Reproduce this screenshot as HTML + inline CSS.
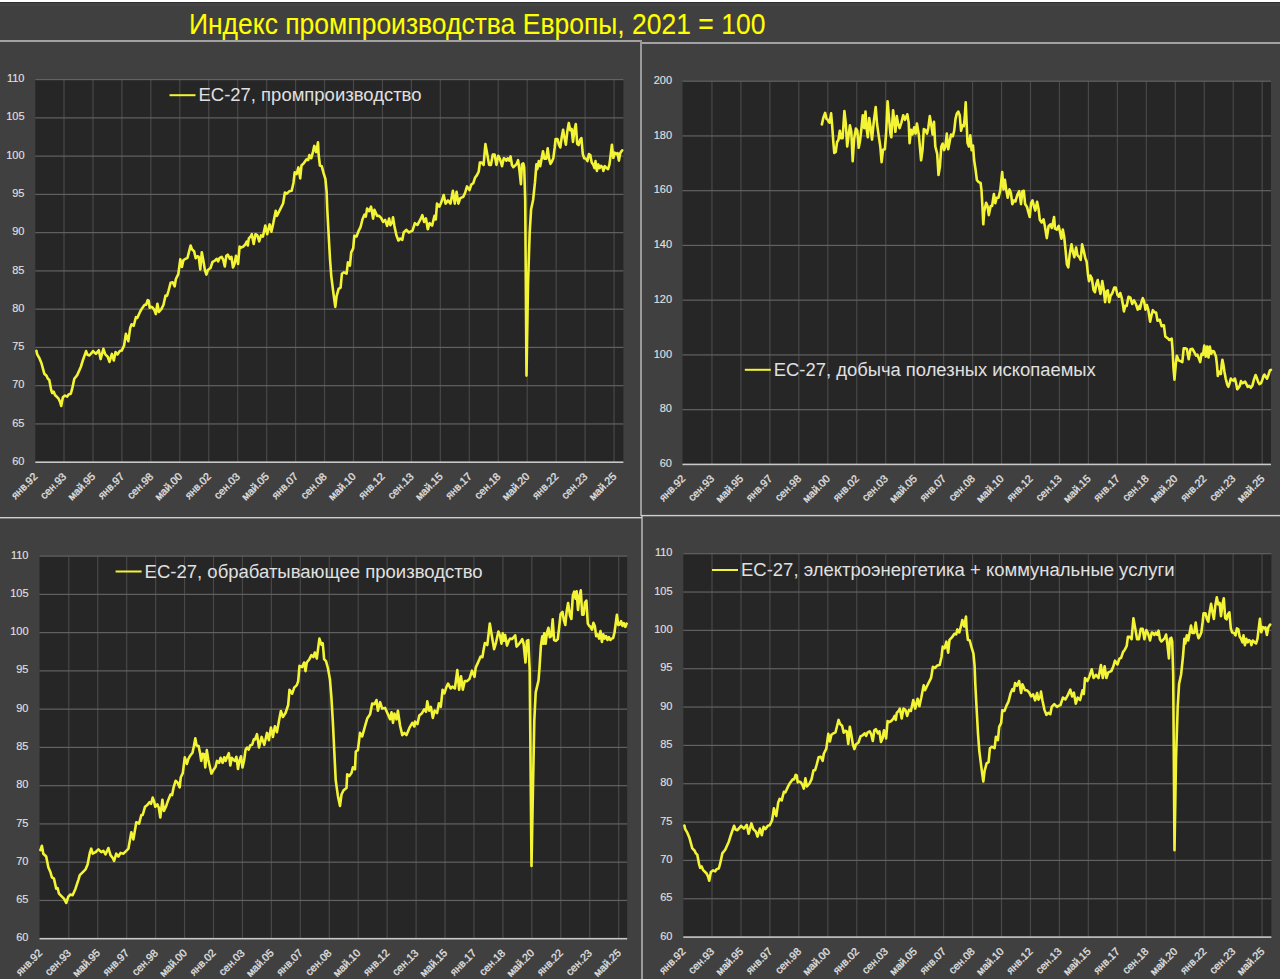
<!DOCTYPE html>
<html><head><meta charset="utf-8"><title>Индекс промпроизводства Европы</title>
<style>html,body{margin:0;padding:0;background:#404040;width:1280px;height:979px;overflow:hidden}svg{display:block}</style>
</head><body>
<svg width="1280" height="979" viewBox="0 0 1280 979" font-family='"Liberation Sans", sans-serif'>
<rect x="0" y="0" width="1280" height="2" fill="#ffffff"/>
<rect x="0" y="2" width="1280" height="1" fill="#2e2e2e"/>
<rect x="0" y="3" width="1280" height="3" fill="#444444"/>
<text x="188.9" y="33.8" font-size="30" fill="#ffff00" stroke="#ffff00" stroke-width="0.1" textLength="576.5" lengthAdjust="spacingAndGlyphs">Индекс промпроизводства Европы, 2021 = 100</text>
<rect x="35.3" y="79.6" width="588.1" height="382.6" fill="#262626"/>
<rect x="63.40" y="79.6" width="1.2" height="382.6" fill="#484848"/>
<rect x="92.35" y="79.6" width="1.2" height="382.6" fill="#484848"/>
<rect x="121.30" y="79.6" width="1.2" height="382.6" fill="#484848"/>
<rect x="150.25" y="79.6" width="1.2" height="382.6" fill="#484848"/>
<rect x="179.20" y="79.6" width="1.2" height="382.6" fill="#484848"/>
<rect x="208.15" y="79.6" width="1.2" height="382.6" fill="#484848"/>
<rect x="237.10" y="79.6" width="1.2" height="382.6" fill="#484848"/>
<rect x="266.05" y="79.6" width="1.2" height="382.6" fill="#484848"/>
<rect x="295.00" y="79.6" width="1.2" height="382.6" fill="#484848"/>
<rect x="323.95" y="79.6" width="1.2" height="382.6" fill="#484848"/>
<rect x="352.90" y="79.6" width="1.2" height="382.6" fill="#484848"/>
<rect x="381.85" y="79.6" width="1.2" height="382.6" fill="#484848"/>
<rect x="410.80" y="79.6" width="1.2" height="382.6" fill="#484848"/>
<rect x="439.75" y="79.6" width="1.2" height="382.6" fill="#484848"/>
<rect x="468.70" y="79.6" width="1.2" height="382.6" fill="#484848"/>
<rect x="497.65" y="79.6" width="1.2" height="382.6" fill="#484848"/>
<rect x="526.60" y="79.6" width="1.2" height="382.6" fill="#484848"/>
<rect x="555.55" y="79.6" width="1.2" height="382.6" fill="#484848"/>
<rect x="584.50" y="79.6" width="1.2" height="382.6" fill="#484848"/>
<rect x="613.45" y="79.6" width="1.2" height="382.6" fill="#484848"/>
<text x="24.5" y="464.80" text-anchor="end" font-size="11" fill="#e0e0e0" stroke="#e0e0e0" stroke-width="0.12">60</text>
<rect x="35.3" y="423.34" width="588.1" height="1.2" fill="#626262"/>
<text x="24.5" y="426.54" text-anchor="end" font-size="11" fill="#e0e0e0" stroke="#e0e0e0" stroke-width="0.12">65</text>
<rect x="35.3" y="385.08" width="588.1" height="1.2" fill="#626262"/>
<text x="24.5" y="388.28" text-anchor="end" font-size="11" fill="#e0e0e0" stroke="#e0e0e0" stroke-width="0.12">70</text>
<rect x="35.3" y="346.82" width="588.1" height="1.2" fill="#626262"/>
<text x="24.5" y="350.02" text-anchor="end" font-size="11" fill="#e0e0e0" stroke="#e0e0e0" stroke-width="0.12">75</text>
<rect x="35.3" y="308.56" width="588.1" height="1.2" fill="#626262"/>
<text x="24.5" y="311.76" text-anchor="end" font-size="11" fill="#e0e0e0" stroke="#e0e0e0" stroke-width="0.12">80</text>
<rect x="35.3" y="270.30" width="588.1" height="1.2" fill="#626262"/>
<text x="24.5" y="273.50" text-anchor="end" font-size="11" fill="#e0e0e0" stroke="#e0e0e0" stroke-width="0.12">85</text>
<rect x="35.3" y="232.04" width="588.1" height="1.2" fill="#626262"/>
<text x="24.5" y="235.24" text-anchor="end" font-size="11" fill="#e0e0e0" stroke="#e0e0e0" stroke-width="0.12">90</text>
<rect x="35.3" y="193.78" width="588.1" height="1.2" fill="#626262"/>
<text x="24.5" y="196.98" text-anchor="end" font-size="11" fill="#e0e0e0" stroke="#e0e0e0" stroke-width="0.12">95</text>
<rect x="35.3" y="155.52" width="588.1" height="1.2" fill="#626262"/>
<text x="24.5" y="158.72" text-anchor="end" font-size="11" fill="#e0e0e0" stroke="#e0e0e0" stroke-width="0.12">100</text>
<rect x="35.3" y="117.26" width="588.1" height="1.2" fill="#626262"/>
<text x="24.5" y="120.46" text-anchor="end" font-size="11" fill="#e0e0e0" stroke="#e0e0e0" stroke-width="0.12">105</text>
<rect x="35.3" y="79.00" width="588.1" height="1.2" fill="#626262"/>
<text x="24.5" y="82.20" text-anchor="end" font-size="11" fill="#e0e0e0" stroke="#e0e0e0" stroke-width="0.12">110</text>
<rect x="35.3" y="461.40" width="588.1" height="1.6" fill="#c8c8c8"/>
<text transform="translate(38.05,477.20) rotate(-45)" text-anchor="end" font-size="10.6" fill="#e0e0e0" stroke="#e0e0e0" stroke-width="0.3">янв.92</text>
<text transform="translate(67.00,477.20) rotate(-45)" text-anchor="end" font-size="10.6" fill="#e0e0e0" stroke="#e0e0e0" stroke-width="0.3">сен.93</text>
<text transform="translate(95.95,477.20) rotate(-45)" text-anchor="end" font-size="10.6" fill="#e0e0e0" stroke="#e0e0e0" stroke-width="0.3">май.95</text>
<text transform="translate(124.90,477.20) rotate(-45)" text-anchor="end" font-size="10.6" fill="#e0e0e0" stroke="#e0e0e0" stroke-width="0.3">янв.97</text>
<text transform="translate(153.85,477.20) rotate(-45)" text-anchor="end" font-size="10.6" fill="#e0e0e0" stroke="#e0e0e0" stroke-width="0.3">сен.98</text>
<text transform="translate(182.80,477.20) rotate(-45)" text-anchor="end" font-size="10.6" fill="#e0e0e0" stroke="#e0e0e0" stroke-width="0.3">май.00</text>
<text transform="translate(211.75,477.20) rotate(-45)" text-anchor="end" font-size="10.6" fill="#e0e0e0" stroke="#e0e0e0" stroke-width="0.3">янв.02</text>
<text transform="translate(240.70,477.20) rotate(-45)" text-anchor="end" font-size="10.6" fill="#e0e0e0" stroke="#e0e0e0" stroke-width="0.3">сен.03</text>
<text transform="translate(269.65,477.20) rotate(-45)" text-anchor="end" font-size="10.6" fill="#e0e0e0" stroke="#e0e0e0" stroke-width="0.3">май.05</text>
<text transform="translate(298.60,477.20) rotate(-45)" text-anchor="end" font-size="10.6" fill="#e0e0e0" stroke="#e0e0e0" stroke-width="0.3">янв.07</text>
<text transform="translate(327.55,477.20) rotate(-45)" text-anchor="end" font-size="10.6" fill="#e0e0e0" stroke="#e0e0e0" stroke-width="0.3">сен.08</text>
<text transform="translate(356.50,477.20) rotate(-45)" text-anchor="end" font-size="10.6" fill="#e0e0e0" stroke="#e0e0e0" stroke-width="0.3">май.10</text>
<text transform="translate(385.45,477.20) rotate(-45)" text-anchor="end" font-size="10.6" fill="#e0e0e0" stroke="#e0e0e0" stroke-width="0.3">янв.12</text>
<text transform="translate(414.40,477.20) rotate(-45)" text-anchor="end" font-size="10.6" fill="#e0e0e0" stroke="#e0e0e0" stroke-width="0.3">сен.13</text>
<text transform="translate(443.35,477.20) rotate(-45)" text-anchor="end" font-size="10.6" fill="#e0e0e0" stroke="#e0e0e0" stroke-width="0.3">май.15</text>
<text transform="translate(472.30,477.20) rotate(-45)" text-anchor="end" font-size="10.6" fill="#e0e0e0" stroke="#e0e0e0" stroke-width="0.3">янв.17</text>
<text transform="translate(501.25,477.20) rotate(-45)" text-anchor="end" font-size="10.6" fill="#e0e0e0" stroke="#e0e0e0" stroke-width="0.3">сен.18</text>
<text transform="translate(530.20,477.20) rotate(-45)" text-anchor="end" font-size="10.6" fill="#e0e0e0" stroke="#e0e0e0" stroke-width="0.3">май.20</text>
<text transform="translate(559.15,477.20) rotate(-45)" text-anchor="end" font-size="10.6" fill="#e0e0e0" stroke="#e0e0e0" stroke-width="0.3">янв.22</text>
<text transform="translate(588.10,477.20) rotate(-45)" text-anchor="end" font-size="10.6" fill="#e0e0e0" stroke="#e0e0e0" stroke-width="0.3">сен.23</text>
<text transform="translate(617.05,477.20) rotate(-45)" text-anchor="end" font-size="10.6" fill="#e0e0e0" stroke="#e0e0e0" stroke-width="0.3">май.25</text>
<rect x="169.5" y="94.20" width="26" height="2.0" fill="#f4f436"/>
<text x="198.5" y="101.40" font-size="18" fill="#e0e0e0" textLength="223" lengthAdjust="spacingAndGlyphs">ЕС-27, промпроизводство</text>
<polyline points="36.4,350.8 37.2,354.4 39.3,358.0 41.4,363.0 44.3,373.7 46.5,375.8 47.9,378.7 49.3,380.0 51.2,390.0 52.2,393.0 53.6,391.6 55.0,395.0 58.6,398.7 60.0,401.6 61.2,405.9 62.9,397.3 65.0,395.6 67.2,396.6 68.6,394.4 70.8,393.7 72.2,388.7 74.3,378.7 77.2,375.1 80.8,367.0 82.8,360.5 86.1,351.1 87.5,354.8 89.4,355.5 93.1,351.1 95.9,353.9 98.8,350.2 100.6,359.1 103.4,348.8 105.3,354.4 107.7,356.7 109.5,361.9 111.9,353.9 113.8,360.5 115.6,352.0 117.5,354.4 119.8,351.1 121.7,350.6 124.1,345.5 125.9,333.8 128.3,341.2 130.2,328.0 131.6,324.3 133.7,325.8 135.9,317.2 137.3,317.9 140.2,311.5 142.0,308.4 144.6,304.8 146.1,304.8 147.7,300.2 148.7,300.7 149.7,307.8 150.7,306.8 152.3,307.3 154.3,309.9 155.8,314.0 157.4,303.8 158.9,311.9 161.5,308.9 163.5,304.8 165.5,295.6 167.1,295.6 168.6,290.5 170.6,282.8 172.7,282.3 174.7,286.4 175.8,279.2 178.3,274.1 180.3,259.3 181.9,267.0 183.4,260.3 185.5,258.8 187.5,257.8 189.0,251.7 190.6,245.5 192.1,249.6 194.1,251.2 195.7,258.3 197.2,256.3 198.7,256.8 200.3,269.5 201.8,252.2 203.3,260.3 204.9,270.0 206.4,274.6 207.9,270.0 210.5,268.0 212.5,261.9 214.6,260.9 216.6,258.8 218.1,261.4 219.7,257.8 221.7,256.8 223.2,259.8 224.8,266.5 226.3,255.8 227.8,254.7 229.9,258.8 231.4,256.8 233.0,267.5 234.5,263.9 236.0,255.8 238.1,263.9 239.6,246.6 241.1,247.6 243.2,246.6 245.2,244.5 246.7,241.5 247.8,245.5 248.8,238.4 250.8,236.3 251.8,234.2 253.7,244.0 255.5,234.2 257.4,235.4 259.2,241.5 261.0,235.4 262.9,236.6 265.3,225.6 267.2,234.2 269.6,224.4 271.4,231.7 273.3,223.1 275.7,210.9 277.0,215.8 279.4,210.9 283.1,203.5 284.9,192.5 286.8,193.7 289.2,191.3 291.7,190.7 293.5,182.7 294.7,172.3 296.6,174.1 298.4,167.4 300.2,178.4 301.5,165.5 303.9,163.1 306.4,159.4 308.2,160.0 309.4,155.1 311.3,158.2 313.1,151.4 314.3,145.9 316.2,152.1 318.0,142.3 318.6,154.5 319.9,165.5 321.7,166.2 323.5,172.9 325.4,179.0 326.6,191.3 327.3,209.9 328.6,233.8 330.0,259.0 331.3,276.3 333.3,292.3 335.3,306.9 336.6,296.2 338.6,288.9 340.6,287.6 341.9,273.7 343.9,272.3 346.6,273.7 347.9,262.4 349.9,265.7 351.2,252.4 353.2,248.4 354.3,235.8 356.5,236.5 358.5,231.2 360.5,227.2 362.5,219.2 364.5,214.6 365.8,216.6 367.1,208.6 369.1,211.2 371.1,206.6 373.1,218.6 374.4,209.9 377.1,215.9 379.1,215.9 381.1,217.9 383.1,221.9 385.1,219.9 387.1,225.9 389.1,218.6 390.4,225.2 392.4,221.9 393.0,217.2 394.4,225.9 396.4,235.2 398.4,240.5 400.3,238.5 402.3,239.8 403.7,232.5 406.3,229.8 409.0,232.5 410.0,231.8 412.5,230.6 414.9,223.2 417.4,225.0 419.8,220.7 422.3,215.2 424.1,222.0 425.9,218.3 427.8,229.3 429.6,223.2 432.1,225.6 434.5,215.8 435.8,219.5 437.0,203.6 439.4,206.6 441.3,202.3 443.7,195.0 445.6,203.6 448.0,200.5 450.5,203.6 452.9,190.7 454.8,203.6 456.6,191.9 458.4,203.6 460.3,198.1 463.3,196.8 465.2,192.5 467.0,186.4 469.5,190.1 471.3,184.6 473.2,183.3 475.0,177.8 476.8,175.4 478.7,171.7 479.9,162.5 481.7,162.5 483.6,164.9 485.4,144.1 487.3,154.5 489.1,164.9 490.9,164.9 492.8,154.5 494.6,154.5 496.4,164.9 498.3,155.8 500.1,159.4 502.0,166.2 503.8,158.2 505.0,158.8 506.4,160.6 507.8,158.3 509.2,160.6 510.6,156.4 512.0,165.3 513.4,167.2 515.3,165.3 516.7,163.9 518.1,160.2 519.5,170.9 520.9,184.1 521.9,164.4 523.3,163.4 524.2,167.2 525.2,200.0 526.5,375.6 528.0,284.6 529.7,232.3 531.1,209.3 533.1,200.0 535.0,182.2 536.4,164.4 537.3,169.1 538.8,161.1 540.2,166.2 541.6,158.8 543.0,151.2 544.4,158.8 546.2,158.8 547.7,148.4 549.1,158.8 550.5,163.9 551.9,161.6 553.3,158.3 554.7,147.5 555.6,139.0 557.5,139.0 558.9,144.7 560.3,147.5 561.7,137.2 563.1,129.7 564.5,138.1 565.9,144.7 567.3,131.6 568.8,123.1 570.2,130.2 571.6,128.8 573.0,141.9 574.4,130.2 575.8,124.1 577.2,143.8 578.6,145.2 580.0,140.0 581.4,138.1 582.8,154.1 584.2,158.3 586.1,158.8 587.5,161.1 588.9,154.1 590.3,155.0 591.7,162.5 593.1,164.4 594.5,168.1 595.5,161.1 596.9,170.9 598.3,164.4 599.7,168.1 601.1,165.8 602.5,167.2 603.4,170.9 604.8,166.2 606.7,168.1 608.1,169.1 609.5,164.4 611.9,144.7 613.3,157.8 614.7,152.7 616.1,154.1 617.5,153.1 618.9,160.6 620.3,153.1 622.2,150.3" fill="none" stroke="#f4f436" stroke-width="2.6" stroke-linejoin="round" stroke-linecap="round"/>
<rect x="682.5" y="81.2" width="588.5" height="383.2" fill="#262626"/>
<rect x="711.36" y="81.2" width="1.2" height="383.2" fill="#484848"/>
<rect x="740.32" y="81.2" width="1.2" height="383.2" fill="#484848"/>
<rect x="769.27" y="81.2" width="1.2" height="383.2" fill="#484848"/>
<rect x="798.23" y="81.2" width="1.2" height="383.2" fill="#484848"/>
<rect x="827.19" y="81.2" width="1.2" height="383.2" fill="#484848"/>
<rect x="856.15" y="81.2" width="1.2" height="383.2" fill="#484848"/>
<rect x="885.11" y="81.2" width="1.2" height="383.2" fill="#484848"/>
<rect x="914.06" y="81.2" width="1.2" height="383.2" fill="#484848"/>
<rect x="943.02" y="81.2" width="1.2" height="383.2" fill="#484848"/>
<rect x="971.98" y="81.2" width="1.2" height="383.2" fill="#484848"/>
<rect x="1000.94" y="81.2" width="1.2" height="383.2" fill="#484848"/>
<rect x="1029.90" y="81.2" width="1.2" height="383.2" fill="#484848"/>
<rect x="1058.85" y="81.2" width="1.2" height="383.2" fill="#484848"/>
<rect x="1087.81" y="81.2" width="1.2" height="383.2" fill="#484848"/>
<rect x="1116.77" y="81.2" width="1.2" height="383.2" fill="#484848"/>
<rect x="1145.73" y="81.2" width="1.2" height="383.2" fill="#484848"/>
<rect x="1174.69" y="81.2" width="1.2" height="383.2" fill="#484848"/>
<rect x="1203.64" y="81.2" width="1.2" height="383.2" fill="#484848"/>
<rect x="1232.60" y="81.2" width="1.2" height="383.2" fill="#484848"/>
<rect x="1261.56" y="81.2" width="1.2" height="383.2" fill="#484848"/>
<text x="672" y="467.00" text-anchor="end" font-size="11" fill="#e0e0e0" stroke="#e0e0e0" stroke-width="0.12">60</text>
<rect x="682.5" y="409.06" width="588.5" height="1.2" fill="#626262"/>
<text x="672" y="412.26" text-anchor="end" font-size="11" fill="#e0e0e0" stroke="#e0e0e0" stroke-width="0.12">80</text>
<rect x="682.5" y="354.31" width="588.5" height="1.2" fill="#626262"/>
<text x="672" y="357.51" text-anchor="end" font-size="11" fill="#e0e0e0" stroke="#e0e0e0" stroke-width="0.12">100</text>
<rect x="682.5" y="299.57" width="588.5" height="1.2" fill="#626262"/>
<text x="672" y="302.77" text-anchor="end" font-size="11" fill="#e0e0e0" stroke="#e0e0e0" stroke-width="0.12">120</text>
<rect x="682.5" y="244.83" width="588.5" height="1.2" fill="#626262"/>
<text x="672" y="248.03" text-anchor="end" font-size="11" fill="#e0e0e0" stroke="#e0e0e0" stroke-width="0.12">140</text>
<rect x="682.5" y="190.09" width="588.5" height="1.2" fill="#626262"/>
<text x="672" y="193.29" text-anchor="end" font-size="11" fill="#e0e0e0" stroke="#e0e0e0" stroke-width="0.12">160</text>
<rect x="682.5" y="135.34" width="588.5" height="1.2" fill="#626262"/>
<text x="672" y="138.54" text-anchor="end" font-size="11" fill="#e0e0e0" stroke="#e0e0e0" stroke-width="0.12">180</text>
<rect x="682.5" y="80.60" width="588.5" height="1.2" fill="#626262"/>
<text x="672" y="83.80" text-anchor="end" font-size="11" fill="#e0e0e0" stroke="#e0e0e0" stroke-width="0.12">200</text>
<rect x="682.5" y="463.60" width="588.5" height="1.6" fill="#c8c8c8"/>
<text transform="translate(686.00,479.40) rotate(-45)" text-anchor="end" font-size="10.6" fill="#e0e0e0" stroke="#e0e0e0" stroke-width="0.3">янв.92</text>
<text transform="translate(714.96,479.40) rotate(-45)" text-anchor="end" font-size="10.6" fill="#e0e0e0" stroke="#e0e0e0" stroke-width="0.3">сен.93</text>
<text transform="translate(743.92,479.40) rotate(-45)" text-anchor="end" font-size="10.6" fill="#e0e0e0" stroke="#e0e0e0" stroke-width="0.3">май.95</text>
<text transform="translate(772.87,479.40) rotate(-45)" text-anchor="end" font-size="10.6" fill="#e0e0e0" stroke="#e0e0e0" stroke-width="0.3">янв.97</text>
<text transform="translate(801.83,479.40) rotate(-45)" text-anchor="end" font-size="10.6" fill="#e0e0e0" stroke="#e0e0e0" stroke-width="0.3">сен.98</text>
<text transform="translate(830.79,479.40) rotate(-45)" text-anchor="end" font-size="10.6" fill="#e0e0e0" stroke="#e0e0e0" stroke-width="0.3">май.00</text>
<text transform="translate(859.75,479.40) rotate(-45)" text-anchor="end" font-size="10.6" fill="#e0e0e0" stroke="#e0e0e0" stroke-width="0.3">янв.02</text>
<text transform="translate(888.71,479.40) rotate(-45)" text-anchor="end" font-size="10.6" fill="#e0e0e0" stroke="#e0e0e0" stroke-width="0.3">сен.03</text>
<text transform="translate(917.66,479.40) rotate(-45)" text-anchor="end" font-size="10.6" fill="#e0e0e0" stroke="#e0e0e0" stroke-width="0.3">май.05</text>
<text transform="translate(946.62,479.40) rotate(-45)" text-anchor="end" font-size="10.6" fill="#e0e0e0" stroke="#e0e0e0" stroke-width="0.3">янв.07</text>
<text transform="translate(975.58,479.40) rotate(-45)" text-anchor="end" font-size="10.6" fill="#e0e0e0" stroke="#e0e0e0" stroke-width="0.3">сен.08</text>
<text transform="translate(1004.54,479.40) rotate(-45)" text-anchor="end" font-size="10.6" fill="#e0e0e0" stroke="#e0e0e0" stroke-width="0.3">май.10</text>
<text transform="translate(1033.50,479.40) rotate(-45)" text-anchor="end" font-size="10.6" fill="#e0e0e0" stroke="#e0e0e0" stroke-width="0.3">янв.12</text>
<text transform="translate(1062.45,479.40) rotate(-45)" text-anchor="end" font-size="10.6" fill="#e0e0e0" stroke="#e0e0e0" stroke-width="0.3">сен.13</text>
<text transform="translate(1091.41,479.40) rotate(-45)" text-anchor="end" font-size="10.6" fill="#e0e0e0" stroke="#e0e0e0" stroke-width="0.3">май.15</text>
<text transform="translate(1120.37,479.40) rotate(-45)" text-anchor="end" font-size="10.6" fill="#e0e0e0" stroke="#e0e0e0" stroke-width="0.3">янв.17</text>
<text transform="translate(1149.33,479.40) rotate(-45)" text-anchor="end" font-size="10.6" fill="#e0e0e0" stroke="#e0e0e0" stroke-width="0.3">сен.18</text>
<text transform="translate(1178.29,479.40) rotate(-45)" text-anchor="end" font-size="10.6" fill="#e0e0e0" stroke="#e0e0e0" stroke-width="0.3">май.20</text>
<text transform="translate(1207.24,479.40) rotate(-45)" text-anchor="end" font-size="10.6" fill="#e0e0e0" stroke="#e0e0e0" stroke-width="0.3">янв.22</text>
<text transform="translate(1236.20,479.40) rotate(-45)" text-anchor="end" font-size="10.6" fill="#e0e0e0" stroke="#e0e0e0" stroke-width="0.3">сен.23</text>
<text transform="translate(1265.16,479.40) rotate(-45)" text-anchor="end" font-size="10.6" fill="#e0e0e0" stroke="#e0e0e0" stroke-width="0.3">май.25</text>
<rect x="744.8" y="368.80" width="26" height="2.0" fill="#f4f436"/>
<text x="773.8" y="376.00" font-size="18" fill="#e0e0e0" textLength="322" lengthAdjust="spacingAndGlyphs">ЕС-27, добыча полезных ископаемых</text>
<polyline points="821.9,124.4 823.3,118.0 825.1,112.9 826.5,118.9 827.9,119.8 828.8,122.1 829.7,122.6 831.1,113.4 832.0,123.5 833.4,142.8 834.3,152.9 835.7,152.0 837.1,141.9 838.4,140.0 839.8,130.8 841.2,138.2 842.6,138.2 844.4,111.1 845.8,123.5 847.2,146.5 848.5,136.4 849.9,125.3 851.3,131.8 852.7,161.2 854.1,139.1 855.9,128.5 857.3,130.8 858.7,147.8 860.0,141.0 861.4,129.0 862.8,115.2 864.2,128.1 865.5,111.5 866.5,128.1 867.8,137.3 869.2,118.0 870.6,127.2 872.0,139.6 873.8,121.7 875.7,107.0 877.0,123.5 878.4,133.6 880.3,146.5 881.6,162.1 883.0,149.7 884.9,149.2 886.2,131.8 887.6,101.4 889.0,118.0 890.4,133.6 891.3,137.3 893.1,110.2 894.5,122.6 895.4,131.8 896.8,116.1 898.2,124.4 899.6,128.1 901.4,122.6 903.2,115.2 905.0,119.8 907.3,114.3 908.7,122.6 909.6,143.2 911.0,129.9 912.4,134.5 914.2,127.2 915.6,133.6 916.9,123.5 918.8,134.5 921.1,160.3 922.5,150.1 923.8,129.0 925.2,129.9 927.1,133.6 928.4,127.2 929.8,116.1 931.2,124.4 932.6,134.5 934.0,121.7 935.3,146.5 937.2,153.8 938.5,175.0 939.9,166.7 941.3,146.5 942.7,143.7 944.1,150.1 945.4,146.5 946.8,133.6 948.2,149.2 949.6,141.9 951.0,134.5 952.8,136.4 954.2,130.8 955.5,118.9 956.9,113.4 958.3,111.5 959.7,115.2 961.1,130.8 962.4,125.3 963.8,126.2 964.7,118.0 965.7,102.4 966.6,122.6 967.5,142.8 968.9,146.5 970.3,135.4 971.6,150.1 973.0,145.5 974.1,160.0 975.5,169.2 976.9,180.2 978.7,182.1 980.6,183.0 981.5,190.3 982.4,206.0 983.3,224.3 984.2,211.5 986.1,202.7 987.5,206.0 988.8,215.1 990.7,206.0 992.1,206.0 993.9,194.0 995.3,203.2 996.7,197.7 998.5,197.7 1000.3,190.3 1002.2,172.0 1003.5,189.4 1004.9,179.8 1006.3,190.3 1007.7,197.7 1009.5,189.4 1010.9,193.0 1012.3,204.1 1014.1,200.4 1015.5,201.4 1017.3,194.9 1019.2,191.2 1021.0,204.1 1022.4,191.2 1023.8,190.8 1025.1,204.1 1027.0,206.9 1028.4,212.4 1029.7,217.0 1031.1,203.2 1032.5,200.4 1033.9,206.0 1035.3,210.6 1037.1,201.8 1038.5,208.7 1039.8,219.7 1041.7,222.5 1043.5,219.3 1044.9,226.2 1046.8,238.1 1048.6,226.2 1050.4,224.3 1051.8,228.0 1054.1,217.0 1055.0,228.7 1056.8,229.6 1058.7,225.9 1060.5,234.2 1061.4,238.8 1062.8,229.6 1064.2,237.0 1065.6,250.7 1066.9,264.5 1068.3,267.3 1069.7,254.4 1071.5,244.3 1072.9,251.7 1074.3,257.2 1076.1,247.5 1077.5,255.3 1079.4,257.2 1080.7,259.9 1082.1,244.3 1083.5,249.8 1085.3,258.1 1086.7,261.8 1088.1,275.6 1089.0,281.1 1090.4,275.6 1091.8,278.3 1093.6,290.3 1095.0,292.1 1096.4,283.8 1097.7,280.1 1099.1,287.5 1100.5,293.9 1102.3,281.1 1103.7,289.3 1105.1,302.2 1106.5,291.2 1107.8,290.3 1109.2,302.2 1110.6,295.8 1112.4,293.0 1114.3,287.5 1115.7,287.5 1117.5,294.9 1118.9,296.7 1120.3,293.0 1121.6,297.6 1123.0,305.0 1123.9,311.4 1125.3,305.9 1126.7,305.9 1128.5,296.7 1130.4,297.6 1132.2,304.0 1134.0,300.4 1135.9,304.0 1137.7,309.6 1139.6,305.9 1140.0,308.8 1141.4,302.4 1142.8,298.2 1144.1,301.4 1145.5,309.7 1146.9,305.1 1148.3,309.7 1150.1,321.6 1151.5,315.2 1152.9,310.2 1154.7,312.5 1156.1,312.5 1157.5,320.7 1159.8,319.8 1161.6,326.2 1163.9,325.3 1165.3,336.4 1167.6,338.2 1169.4,340.0 1171.7,338.7 1172.6,350.1 1173.5,368.5 1174.5,379.6 1175.8,363.9 1176.8,355.7 1178.6,360.3 1180.4,361.2 1182.3,362.1 1183.7,348.3 1185.5,348.3 1186.9,349.2 1188.7,359.3 1190.5,349.2 1192.4,348.8 1194.2,352.0 1196.1,355.7 1197.4,354.7 1198.8,358.4 1200.2,362.1 1201.6,353.8 1203.0,354.7 1204.3,345.6 1205.7,356.6 1207.1,346.5 1208.5,357.5 1209.8,346.5 1211.2,353.8 1212.6,351.0 1214.0,351.5 1215.0,354.1 1216.0,356.6 1217.0,365.3 1217.8,376.0 1218.8,371.5 1219.8,373.5 1220.9,374.0 1221.6,365.3 1222.4,359.7 1223.4,364.8 1224.4,371.5 1225.7,378.6 1227.3,384.7 1228.3,386.8 1229.6,383.2 1230.8,378.6 1232.1,380.1 1233.4,380.6 1234.9,378.6 1236.2,383.7 1237.2,389.3 1238.5,387.8 1239.8,385.8 1241.0,381.1 1242.3,383.2 1243.6,382.7 1245.1,381.7 1246.4,384.2 1247.7,386.8 1249.2,385.8 1250.8,387.8 1252.3,385.8 1253.8,380.1 1255.6,375.0 1256.9,378.1 1258.2,382.2 1259.4,384.2 1261.0,383.2 1262.2,380.1 1263.5,376.0 1264.5,374.5 1265.6,376.6 1267.1,378.6 1268.6,374.5 1269.9,370.4 1270.9,369.9" fill="none" stroke="#f4f436" stroke-width="2.6" stroke-linejoin="round" stroke-linecap="round"/>
<rect x="39.5" y="556.1" width="587.7" height="382.6" fill="#262626"/>
<rect x="68.20" y="556.1" width="1.2" height="382.6" fill="#484848"/>
<rect x="97.14" y="556.1" width="1.2" height="382.6" fill="#484848"/>
<rect x="126.08" y="556.1" width="1.2" height="382.6" fill="#484848"/>
<rect x="155.02" y="556.1" width="1.2" height="382.6" fill="#484848"/>
<rect x="183.96" y="556.1" width="1.2" height="382.6" fill="#484848"/>
<rect x="212.90" y="556.1" width="1.2" height="382.6" fill="#484848"/>
<rect x="241.84" y="556.1" width="1.2" height="382.6" fill="#484848"/>
<rect x="270.78" y="556.1" width="1.2" height="382.6" fill="#484848"/>
<rect x="299.72" y="556.1" width="1.2" height="382.6" fill="#484848"/>
<rect x="328.66" y="556.1" width="1.2" height="382.6" fill="#484848"/>
<rect x="357.60" y="556.1" width="1.2" height="382.6" fill="#484848"/>
<rect x="386.54" y="556.1" width="1.2" height="382.6" fill="#484848"/>
<rect x="415.48" y="556.1" width="1.2" height="382.6" fill="#484848"/>
<rect x="444.42" y="556.1" width="1.2" height="382.6" fill="#484848"/>
<rect x="473.36" y="556.1" width="1.2" height="382.6" fill="#484848"/>
<rect x="502.30" y="556.1" width="1.2" height="382.6" fill="#484848"/>
<rect x="531.24" y="556.1" width="1.2" height="382.6" fill="#484848"/>
<rect x="560.18" y="556.1" width="1.2" height="382.6" fill="#484848"/>
<rect x="589.12" y="556.1" width="1.2" height="382.6" fill="#484848"/>
<rect x="618.06" y="556.1" width="1.2" height="382.6" fill="#484848"/>
<text x="28.5" y="941.30" text-anchor="end" font-size="11" fill="#e0e0e0" stroke="#e0e0e0" stroke-width="0.12">60</text>
<rect x="39.5" y="899.84" width="587.7" height="1.2" fill="#626262"/>
<text x="28.5" y="903.04" text-anchor="end" font-size="11" fill="#e0e0e0" stroke="#e0e0e0" stroke-width="0.12">65</text>
<rect x="39.5" y="861.58" width="587.7" height="1.2" fill="#626262"/>
<text x="28.5" y="864.78" text-anchor="end" font-size="11" fill="#e0e0e0" stroke="#e0e0e0" stroke-width="0.12">70</text>
<rect x="39.5" y="823.32" width="587.7" height="1.2" fill="#626262"/>
<text x="28.5" y="826.52" text-anchor="end" font-size="11" fill="#e0e0e0" stroke="#e0e0e0" stroke-width="0.12">75</text>
<rect x="39.5" y="785.06" width="587.7" height="1.2" fill="#626262"/>
<text x="28.5" y="788.26" text-anchor="end" font-size="11" fill="#e0e0e0" stroke="#e0e0e0" stroke-width="0.12">80</text>
<rect x="39.5" y="746.80" width="587.7" height="1.2" fill="#626262"/>
<text x="28.5" y="750.00" text-anchor="end" font-size="11" fill="#e0e0e0" stroke="#e0e0e0" stroke-width="0.12">85</text>
<rect x="39.5" y="708.54" width="587.7" height="1.2" fill="#626262"/>
<text x="28.5" y="711.74" text-anchor="end" font-size="11" fill="#e0e0e0" stroke="#e0e0e0" stroke-width="0.12">90</text>
<rect x="39.5" y="670.28" width="587.7" height="1.2" fill="#626262"/>
<text x="28.5" y="673.48" text-anchor="end" font-size="11" fill="#e0e0e0" stroke="#e0e0e0" stroke-width="0.12">95</text>
<rect x="39.5" y="632.02" width="587.7" height="1.2" fill="#626262"/>
<text x="28.5" y="635.22" text-anchor="end" font-size="11" fill="#e0e0e0" stroke="#e0e0e0" stroke-width="0.12">100</text>
<rect x="39.5" y="593.76" width="587.7" height="1.2" fill="#626262"/>
<text x="28.5" y="596.96" text-anchor="end" font-size="11" fill="#e0e0e0" stroke="#e0e0e0" stroke-width="0.12">105</text>
<rect x="39.5" y="555.50" width="587.7" height="1.2" fill="#626262"/>
<text x="28.5" y="558.70" text-anchor="end" font-size="11" fill="#e0e0e0" stroke="#e0e0e0" stroke-width="0.12">110</text>
<rect x="39.5" y="937.90" width="587.7" height="1.6" fill="#c8c8c8"/>
<text transform="translate(42.86,953.70) rotate(-45)" text-anchor="end" font-size="10.6" fill="#e0e0e0" stroke="#e0e0e0" stroke-width="0.3">янв.92</text>
<text transform="translate(71.80,953.70) rotate(-45)" text-anchor="end" font-size="10.6" fill="#e0e0e0" stroke="#e0e0e0" stroke-width="0.3">сен.93</text>
<text transform="translate(100.74,953.70) rotate(-45)" text-anchor="end" font-size="10.6" fill="#e0e0e0" stroke="#e0e0e0" stroke-width="0.3">май.95</text>
<text transform="translate(129.68,953.70) rotate(-45)" text-anchor="end" font-size="10.6" fill="#e0e0e0" stroke="#e0e0e0" stroke-width="0.3">янв.97</text>
<text transform="translate(158.62,953.70) rotate(-45)" text-anchor="end" font-size="10.6" fill="#e0e0e0" stroke="#e0e0e0" stroke-width="0.3">сен.98</text>
<text transform="translate(187.56,953.70) rotate(-45)" text-anchor="end" font-size="10.6" fill="#e0e0e0" stroke="#e0e0e0" stroke-width="0.3">май.00</text>
<text transform="translate(216.50,953.70) rotate(-45)" text-anchor="end" font-size="10.6" fill="#e0e0e0" stroke="#e0e0e0" stroke-width="0.3">янв.02</text>
<text transform="translate(245.44,953.70) rotate(-45)" text-anchor="end" font-size="10.6" fill="#e0e0e0" stroke="#e0e0e0" stroke-width="0.3">сен.03</text>
<text transform="translate(274.38,953.70) rotate(-45)" text-anchor="end" font-size="10.6" fill="#e0e0e0" stroke="#e0e0e0" stroke-width="0.3">май.05</text>
<text transform="translate(303.32,953.70) rotate(-45)" text-anchor="end" font-size="10.6" fill="#e0e0e0" stroke="#e0e0e0" stroke-width="0.3">янв.07</text>
<text transform="translate(332.26,953.70) rotate(-45)" text-anchor="end" font-size="10.6" fill="#e0e0e0" stroke="#e0e0e0" stroke-width="0.3">сен.08</text>
<text transform="translate(361.20,953.70) rotate(-45)" text-anchor="end" font-size="10.6" fill="#e0e0e0" stroke="#e0e0e0" stroke-width="0.3">май.10</text>
<text transform="translate(390.14,953.70) rotate(-45)" text-anchor="end" font-size="10.6" fill="#e0e0e0" stroke="#e0e0e0" stroke-width="0.3">янв.12</text>
<text transform="translate(419.08,953.70) rotate(-45)" text-anchor="end" font-size="10.6" fill="#e0e0e0" stroke="#e0e0e0" stroke-width="0.3">сен.13</text>
<text transform="translate(448.02,953.70) rotate(-45)" text-anchor="end" font-size="10.6" fill="#e0e0e0" stroke="#e0e0e0" stroke-width="0.3">май.15</text>
<text transform="translate(476.96,953.70) rotate(-45)" text-anchor="end" font-size="10.6" fill="#e0e0e0" stroke="#e0e0e0" stroke-width="0.3">янв.17</text>
<text transform="translate(505.90,953.70) rotate(-45)" text-anchor="end" font-size="10.6" fill="#e0e0e0" stroke="#e0e0e0" stroke-width="0.3">сен.18</text>
<text transform="translate(534.84,953.70) rotate(-45)" text-anchor="end" font-size="10.6" fill="#e0e0e0" stroke="#e0e0e0" stroke-width="0.3">май.20</text>
<text transform="translate(563.78,953.70) rotate(-45)" text-anchor="end" font-size="10.6" fill="#e0e0e0" stroke="#e0e0e0" stroke-width="0.3">янв.22</text>
<text transform="translate(592.72,953.70) rotate(-45)" text-anchor="end" font-size="10.6" fill="#e0e0e0" stroke="#e0e0e0" stroke-width="0.3">сен.23</text>
<text transform="translate(621.66,953.70) rotate(-45)" text-anchor="end" font-size="10.6" fill="#e0e0e0" stroke="#e0e0e0" stroke-width="0.3">май.25</text>
<rect x="115.6" y="570.50" width="26" height="2.0" fill="#f4f436"/>
<text x="144.6" y="577.70" font-size="18" fill="#e0e0e0" textLength="338" lengthAdjust="spacingAndGlyphs">ЕС-27, обрабатывающее производство</text>
<polyline points="40.4,850.1 41.9,845.8 43.3,853.7 46.2,856.5 48.3,867.3 50.5,872.3 51.9,877.3 54.0,878.7 56.2,888.7 57.6,888.0 59.0,893.7 61.9,896.6 64.0,898.7 66.2,903.0 68.3,896.6 70.5,894.5 72.6,895.2 75.5,888.7 78.3,880.1 79.8,875.1 82.6,872.3 85.5,869.4 87.6,864.4 89.8,853.0 91.2,848.7 92.7,853.7 95.5,852.2 98.4,849.4 101.2,852.2 103.4,850.8 105.5,854.4 108.4,848.0 110.5,855.1 112.7,858.0 114.1,860.8 116.3,853.7 118.4,856.5 120.6,852.9 123.4,853.7 126.3,850.8 128.4,848.7 131.3,832.2 133.4,839.4 136.3,822.2 139.1,823.6 141.3,815.0 142.7,815.0 145.0,806.8 147.0,805.3 149.6,802.2 151.1,803.8 152.7,797.6 154.2,801.7 155.2,806.8 157.3,804.3 158.8,807.8 160.3,817.5 162.4,799.7 163.9,810.9 165.9,806.8 168.0,800.7 170.5,794.6 172.1,795.1 173.6,787.4 175.6,780.8 177.7,782.8 179.7,787.4 180.8,777.2 182.8,773.1 184.8,757.3 186.9,763.9 188.4,758.8 190.5,755.2 192.5,752.7 194.0,745.5 195.3,738.4 196.6,745.5 198.6,746.0 200.2,753.7 201.2,760.9 202.7,753.7 204.2,754.2 205.3,767.5 206.8,750.1 208.3,759.8 209.9,767.0 211.4,773.6 213.4,770.0 215.5,767.0 217.0,760.9 219.1,762.9 220.6,757.8 222.6,762.9 224.2,757.3 225.7,760.9 227.2,756.8 228.8,753.2 230.3,765.5 231.8,757.8 233.4,759.8 234.9,760.9 236.4,756.8 238.0,769.0 239.5,760.3 241.0,756.3 242.5,767.5 244.1,760.3 245.6,749.6 247.1,747.6 248.7,749.6 250.2,745.5 252.3,744.5 253.8,739.4 255.0,739.5 257.0,734.2 259.0,747.5 261.6,736.9 264.3,744.8 267.0,732.9 268.9,740.2 270.9,727.6 272.9,736.9 274.9,726.2 276.9,732.2 279.6,717.6 280.9,711.0 282.9,717.0 285.5,713.0 288.2,705.0 289.5,689.7 292.2,693.7 294.2,687.7 296.8,685.1 298.2,681.1 299.5,665.8 302.1,667.1 304.1,662.5 305.5,671.1 306.8,662.5 309.4,659.2 311.4,655.2 313.4,657.2 314.8,652.5 316.8,658.5 319.4,638.6 321.4,644.6 322.7,643.2 323.4,650.5 324.1,659.2 326.0,661.2 328.0,668.5 330.0,679.8 331.4,697.2 332.9,722.9 334.3,751.5 335.7,780.1 337.9,795.9 340.0,805.9 341.5,794.5 343.6,790.2 346.5,788.0 347.2,774.4 349.3,775.9 351.5,773.0 352.9,767.3 355.0,769.4 355.8,751.5 357.9,750.1 360.0,732.9 362.2,736.5 365.1,725.8 367.2,718.6 370.1,714.3 372.2,703.6 374.4,704.3 376.5,700.0 377.9,710.8 380.1,702.2 382.2,708.6 385.1,707.9 387.9,714.3 390.1,719.3 391.5,712.2 393.0,722.9 394.4,713.6 396.5,719.3 397.9,710.8 400.1,725.8 402.3,735.1 404.4,732.9 406.5,735.1 409.4,727.9 412.3,722.9 414.4,726.5 415.0,721.6 417.5,724.0 419.3,715.5 421.7,713.6 424.2,709.3 426.0,711.8 427.3,701.4 429.1,710.6 430.9,706.9 432.8,717.9 434.6,710.6 437.1,713.0 438.9,703.2 440.8,706.9 442.6,689.7 444.4,693.4 446.3,687.3 448.1,683.6 450.6,688.5 452.4,686.6 454.9,688.5 457.3,670.1 459.1,689.7 461.0,676.2 462.8,689.7 464.7,681.1 467.1,681.1 469.6,678.7 472.0,670.7 474.5,676.8 475.7,667.6 478.2,662.1 480.6,656.6 482.4,657.2 483.7,649.2 484.9,643.1 487.3,645.0 489.8,623.5 491.6,634.5 494.1,649.2 495.9,643.1 498.4,631.5 500.2,636.4 501.5,643.7 502.7,633.3 503.9,640.7 505.1,635.1 507.0,645.6 508.8,640.7 510.0,638.6 511.9,639.1 513.8,637.2 515.2,635.3 516.6,646.6 518.4,644.7 520.3,642.3 522.2,639.1 523.6,643.8 525.5,662.5 526.9,640.9 528.3,640.0 529.7,670.0 531.5,866.0 532.9,791.2 534.3,720.6 535.7,692.4 538.5,680.6 539.5,668.0 540.9,645.6 542.3,636.2 543.3,643.8 544.2,633.4 545.6,643.8 547.0,632.5 548.4,627.8 549.8,637.2 551.2,636.2 552.7,619.4 554.1,640.0 555.9,640.9 557.8,639.1 559.2,626.9 560.6,614.2 562.5,611.9 563.9,620.3 565.3,625.0 566.7,610.9 568.1,603.0 570.0,615.6 571.4,618.9 572.8,595.9 574.2,591.7 575.6,598.8 576.6,591.2 578.0,610.0 579.4,596.4 580.8,590.3 582.2,614.7 583.6,614.7 585.0,602.5 586.4,600.6 587.8,623.6 589.2,625.9 590.6,626.9 592.0,629.7 593.4,622.7 594.8,625.9 596.2,636.2 597.7,634.4 599.1,638.6 600.5,631.1 601.9,641.9 603.3,634.4 604.7,638.6 606.1,636.2 607.5,640.0 608.9,637.2 610.3,640.0 611.7,638.6 613.1,638.1 614.5,632.5 616.9,614.7 618.3,625.0 619.7,624.5 621.1,621.2 622.5,625.9 623.9,623.1 625.3,626.9 626.7,623.6" fill="none" stroke="#f4f436" stroke-width="2.6" stroke-linejoin="round" stroke-linecap="round"/>
<rect x="683.3" y="553.7" width="588.1000000000001" height="383.4" fill="#262626"/>
<rect x="711.40" y="553.7" width="1.2" height="383.4" fill="#484848"/>
<rect x="740.35" y="553.7" width="1.2" height="383.4" fill="#484848"/>
<rect x="769.30" y="553.7" width="1.2" height="383.4" fill="#484848"/>
<rect x="798.25" y="553.7" width="1.2" height="383.4" fill="#484848"/>
<rect x="827.20" y="553.7" width="1.2" height="383.4" fill="#484848"/>
<rect x="856.15" y="553.7" width="1.2" height="383.4" fill="#484848"/>
<rect x="885.10" y="553.7" width="1.2" height="383.4" fill="#484848"/>
<rect x="914.05" y="553.7" width="1.2" height="383.4" fill="#484848"/>
<rect x="943.00" y="553.7" width="1.2" height="383.4" fill="#484848"/>
<rect x="971.95" y="553.7" width="1.2" height="383.4" fill="#484848"/>
<rect x="1000.90" y="553.7" width="1.2" height="383.4" fill="#484848"/>
<rect x="1029.85" y="553.7" width="1.2" height="383.4" fill="#484848"/>
<rect x="1058.80" y="553.7" width="1.2" height="383.4" fill="#484848"/>
<rect x="1087.75" y="553.7" width="1.2" height="383.4" fill="#484848"/>
<rect x="1116.70" y="553.7" width="1.2" height="383.4" fill="#484848"/>
<rect x="1145.65" y="553.7" width="1.2" height="383.4" fill="#484848"/>
<rect x="1174.60" y="553.7" width="1.2" height="383.4" fill="#484848"/>
<rect x="1203.55" y="553.7" width="1.2" height="383.4" fill="#484848"/>
<rect x="1232.50" y="553.7" width="1.2" height="383.4" fill="#484848"/>
<rect x="1261.45" y="553.7" width="1.2" height="383.4" fill="#484848"/>
<text x="672.5" y="939.70" text-anchor="end" font-size="11" fill="#e0e0e0" stroke="#e0e0e0" stroke-width="0.12">60</text>
<rect x="683.3" y="898.16" width="588.1000000000001" height="1.2" fill="#626262"/>
<text x="672.5" y="901.36" text-anchor="end" font-size="11" fill="#e0e0e0" stroke="#e0e0e0" stroke-width="0.12">65</text>
<rect x="683.3" y="859.82" width="588.1000000000001" height="1.2" fill="#626262"/>
<text x="672.5" y="863.02" text-anchor="end" font-size="11" fill="#e0e0e0" stroke="#e0e0e0" stroke-width="0.12">70</text>
<rect x="683.3" y="821.48" width="588.1000000000001" height="1.2" fill="#626262"/>
<text x="672.5" y="824.68" text-anchor="end" font-size="11" fill="#e0e0e0" stroke="#e0e0e0" stroke-width="0.12">75</text>
<rect x="683.3" y="783.14" width="588.1000000000001" height="1.2" fill="#626262"/>
<text x="672.5" y="786.34" text-anchor="end" font-size="11" fill="#e0e0e0" stroke="#e0e0e0" stroke-width="0.12">80</text>
<rect x="683.3" y="744.80" width="588.1000000000001" height="1.2" fill="#626262"/>
<text x="672.5" y="748.00" text-anchor="end" font-size="11" fill="#e0e0e0" stroke="#e0e0e0" stroke-width="0.12">85</text>
<rect x="683.3" y="706.46" width="588.1000000000001" height="1.2" fill="#626262"/>
<text x="672.5" y="709.66" text-anchor="end" font-size="11" fill="#e0e0e0" stroke="#e0e0e0" stroke-width="0.12">90</text>
<rect x="683.3" y="668.12" width="588.1000000000001" height="1.2" fill="#626262"/>
<text x="672.5" y="671.32" text-anchor="end" font-size="11" fill="#e0e0e0" stroke="#e0e0e0" stroke-width="0.12">95</text>
<rect x="683.3" y="629.78" width="588.1000000000001" height="1.2" fill="#626262"/>
<text x="672.5" y="632.98" text-anchor="end" font-size="11" fill="#e0e0e0" stroke="#e0e0e0" stroke-width="0.12">100</text>
<rect x="683.3" y="591.44" width="588.1000000000001" height="1.2" fill="#626262"/>
<text x="672.5" y="594.64" text-anchor="end" font-size="11" fill="#e0e0e0" stroke="#e0e0e0" stroke-width="0.12">105</text>
<rect x="683.3" y="553.10" width="588.1000000000001" height="1.2" fill="#626262"/>
<text x="672.5" y="556.30" text-anchor="end" font-size="11" fill="#e0e0e0" stroke="#e0e0e0" stroke-width="0.12">110</text>
<rect x="683.3" y="936.30" width="588.1000000000001" height="1.6" fill="#c8c8c8"/>
<text transform="translate(686.05,952.10) rotate(-45)" text-anchor="end" font-size="10.6" fill="#e0e0e0" stroke="#e0e0e0" stroke-width="0.3">янв.92</text>
<text transform="translate(715.00,952.10) rotate(-45)" text-anchor="end" font-size="10.6" fill="#e0e0e0" stroke="#e0e0e0" stroke-width="0.3">сен.93</text>
<text transform="translate(743.95,952.10) rotate(-45)" text-anchor="end" font-size="10.6" fill="#e0e0e0" stroke="#e0e0e0" stroke-width="0.3">май.95</text>
<text transform="translate(772.90,952.10) rotate(-45)" text-anchor="end" font-size="10.6" fill="#e0e0e0" stroke="#e0e0e0" stroke-width="0.3">янв.97</text>
<text transform="translate(801.85,952.10) rotate(-45)" text-anchor="end" font-size="10.6" fill="#e0e0e0" stroke="#e0e0e0" stroke-width="0.3">сен.98</text>
<text transform="translate(830.80,952.10) rotate(-45)" text-anchor="end" font-size="10.6" fill="#e0e0e0" stroke="#e0e0e0" stroke-width="0.3">май.00</text>
<text transform="translate(859.75,952.10) rotate(-45)" text-anchor="end" font-size="10.6" fill="#e0e0e0" stroke="#e0e0e0" stroke-width="0.3">янв.02</text>
<text transform="translate(888.70,952.10) rotate(-45)" text-anchor="end" font-size="10.6" fill="#e0e0e0" stroke="#e0e0e0" stroke-width="0.3">сен.03</text>
<text transform="translate(917.65,952.10) rotate(-45)" text-anchor="end" font-size="10.6" fill="#e0e0e0" stroke="#e0e0e0" stroke-width="0.3">май.05</text>
<text transform="translate(946.60,952.10) rotate(-45)" text-anchor="end" font-size="10.6" fill="#e0e0e0" stroke="#e0e0e0" stroke-width="0.3">янв.07</text>
<text transform="translate(975.55,952.10) rotate(-45)" text-anchor="end" font-size="10.6" fill="#e0e0e0" stroke="#e0e0e0" stroke-width="0.3">сен.08</text>
<text transform="translate(1004.50,952.10) rotate(-45)" text-anchor="end" font-size="10.6" fill="#e0e0e0" stroke="#e0e0e0" stroke-width="0.3">май.10</text>
<text transform="translate(1033.45,952.10) rotate(-45)" text-anchor="end" font-size="10.6" fill="#e0e0e0" stroke="#e0e0e0" stroke-width="0.3">янв.12</text>
<text transform="translate(1062.40,952.10) rotate(-45)" text-anchor="end" font-size="10.6" fill="#e0e0e0" stroke="#e0e0e0" stroke-width="0.3">сен.13</text>
<text transform="translate(1091.35,952.10) rotate(-45)" text-anchor="end" font-size="10.6" fill="#e0e0e0" stroke="#e0e0e0" stroke-width="0.3">май.15</text>
<text transform="translate(1120.30,952.10) rotate(-45)" text-anchor="end" font-size="10.6" fill="#e0e0e0" stroke="#e0e0e0" stroke-width="0.3">янв.17</text>
<text transform="translate(1149.25,952.10) rotate(-45)" text-anchor="end" font-size="10.6" fill="#e0e0e0" stroke="#e0e0e0" stroke-width="0.3">сен.18</text>
<text transform="translate(1178.20,952.10) rotate(-45)" text-anchor="end" font-size="10.6" fill="#e0e0e0" stroke="#e0e0e0" stroke-width="0.3">май.20</text>
<text transform="translate(1207.15,952.10) rotate(-45)" text-anchor="end" font-size="10.6" fill="#e0e0e0" stroke="#e0e0e0" stroke-width="0.3">янв.22</text>
<text transform="translate(1236.10,952.10) rotate(-45)" text-anchor="end" font-size="10.6" fill="#e0e0e0" stroke="#e0e0e0" stroke-width="0.3">сен.23</text>
<text transform="translate(1265.05,952.10) rotate(-45)" text-anchor="end" font-size="10.6" fill="#e0e0e0" stroke="#e0e0e0" stroke-width="0.3">май.25</text>
<rect x="712" y="569.00" width="26" height="2.0" fill="#f4f436"/>
<text x="741" y="576.20" font-size="18" fill="#e0e0e0" textLength="433.5" lengthAdjust="spacingAndGlyphs">ЕС-27, электроэнергетика + коммунальные услуги</text>
<polyline points="684.4,825.5 685.2,829.1 687.3,832.7 689.4,837.7 692.3,848.4 694.5,850.5 695.9,853.4 697.3,854.7 699.2,864.7 700.2,867.8 701.6,866.4 703.0,869.8 706.6,873.5 708.0,876.4 709.2,880.7 710.9,872.1 713.0,870.4 715.2,871.4 716.6,869.2 718.8,868.5 720.2,863.4 722.3,853.4 725.2,849.8 728.8,841.7 730.8,835.2 734.1,825.8 735.5,829.5 737.4,830.2 741.1,825.8 743.9,828.6 746.8,824.9 748.6,833.8 751.4,823.4 753.3,829.1 755.7,831.4 757.5,836.6 759.9,828.6 761.8,835.2 763.6,826.7 765.5,829.1 767.8,825.8 769.7,825.3 772.1,820.2 773.9,808.4 776.3,815.9 778.2,802.6 779.6,798.9 781.7,800.4 783.9,791.8 785.3,792.5 788.2,786.1 790.0,783.0 792.6,779.4 794.1,779.4 795.7,774.8 796.7,775.3 797.7,782.4 798.7,781.4 800.3,781.9 802.3,784.5 803.8,788.6 805.4,778.4 806.9,786.5 809.5,783.5 811.5,779.4 813.5,770.2 815.1,770.2 816.6,765.0 818.6,757.3 820.7,756.8 822.7,760.9 823.8,753.7 826.3,748.6 828.3,733.8 829.9,741.5 831.4,734.8 833.5,733.3 835.5,732.3 837.0,726.2 838.6,719.9 840.1,724.1 842.1,725.7 843.7,732.8 845.2,730.8 846.7,731.3 848.3,744.0 849.8,726.7 851.3,734.8 852.9,744.5 854.4,749.1 855.9,744.5 858.5,742.5 860.5,736.4 862.6,735.4 864.6,733.3 866.1,735.9 867.7,732.3 869.7,731.3 871.2,734.3 872.8,741.0 874.3,730.3 875.8,729.2 877.9,733.3 879.4,731.3 881.0,742.0 882.5,738.4 884.0,730.3 886.1,738.4 887.6,721.0 889.1,722.1 891.2,721.0 893.2,718.9 894.7,715.9 895.8,719.9 896.8,712.8 898.8,710.7 899.8,708.6 901.7,718.4 903.5,708.6 905.4,709.8 907.2,715.9 909.0,709.8 910.9,711.0 913.3,700.0 915.2,708.6 917.6,698.8 919.4,706.1 921.3,697.5 923.7,685.3 925.0,690.2 927.4,685.3 931.1,677.9 932.9,666.8 934.8,668.0 937.2,665.6 939.7,665.0 941.5,657.0 942.7,646.6 944.6,648.4 946.4,641.7 948.2,652.7 949.5,639.8 951.9,637.4 954.4,633.7 956.2,634.3 957.4,629.4 959.3,632.5 961.1,625.7 962.3,620.1 964.2,626.4 966.0,616.5 966.6,628.8 967.9,639.8 969.7,640.5 971.5,647.2 973.4,653.3 974.6,665.6 975.3,684.3 976.6,708.2 978.0,733.5 979.3,750.8 981.3,766.8 983.3,781.5 984.6,770.8 986.6,763.4 988.6,762.1 989.9,748.2 991.9,746.8 994.6,748.2 995.9,736.9 997.9,740.2 999.2,726.9 1001.2,722.9 1002.3,710.2 1004.5,710.9 1006.5,705.6 1008.5,701.6 1010.5,693.6 1012.5,689.0 1013.8,691.0 1015.1,683.0 1017.1,685.6 1019.1,681.0 1021.1,693.0 1022.4,684.3 1025.1,690.3 1027.1,690.3 1029.1,692.3 1031.1,696.3 1033.1,694.3 1035.1,700.3 1037.1,693.0 1038.4,699.6 1040.4,696.3 1041.0,691.6 1042.4,700.3 1044.4,709.6 1046.4,714.9 1048.3,712.9 1050.3,714.2 1051.7,706.9 1054.3,704.2 1057.0,706.9 1058.0,706.2 1060.5,705.0 1062.9,697.6 1065.4,699.4 1067.8,695.1 1070.3,689.6 1072.1,696.4 1073.9,692.7 1075.8,703.7 1077.6,697.6 1080.1,700.0 1082.5,690.2 1083.8,693.9 1085.0,678.0 1087.4,681.0 1089.3,676.7 1091.7,669.3 1093.6,678.0 1096.0,674.9 1098.5,678.0 1100.9,665.0 1102.8,678.0 1104.6,666.2 1106.4,678.0 1108.3,672.4 1111.3,671.1 1113.2,666.8 1115.0,660.7 1117.5,664.4 1119.3,658.9 1121.2,657.6 1123.0,652.1 1124.8,649.7 1126.7,646.0 1127.9,636.8 1129.7,636.8 1131.6,639.2 1133.4,618.3 1135.3,628.8 1137.1,639.2 1138.9,639.2 1140.8,628.8 1142.6,628.8 1144.4,639.2 1146.3,630.1 1148.1,633.7 1150.0,640.5 1151.8,632.5 1153.0,633.0 1154.4,634.9 1155.8,632.6 1157.2,634.9 1158.6,630.7 1160.0,639.6 1161.4,641.5 1163.3,639.6 1164.7,638.2 1166.1,634.5 1167.5,645.2 1168.9,658.4 1169.9,638.7 1171.3,637.7 1172.2,641.5 1173.2,674.4 1174.5,850.3 1176.0,759.1 1177.7,706.7 1179.1,683.7 1181.1,674.4 1183.0,656.5 1184.4,638.7 1185.3,643.4 1186.8,635.4 1188.2,640.5 1189.6,633.0 1191.0,625.5 1192.4,633.0 1194.2,633.0 1195.7,622.6 1197.1,633.0 1198.5,638.2 1199.9,635.9 1201.3,632.6 1202.7,621.7 1203.6,613.2 1205.5,613.2 1206.9,618.9 1208.3,621.7 1209.7,611.4 1211.1,603.9 1212.5,612.3 1213.9,618.9 1215.3,605.8 1216.8,597.3 1218.2,604.4 1219.6,603.0 1221.0,616.1 1222.4,604.4 1223.8,598.3 1225.2,618.0 1226.6,619.4 1228.0,614.2 1229.4,612.3 1230.8,628.4 1232.2,632.6 1234.1,633.0 1235.5,635.4 1236.9,628.4 1238.3,629.3 1239.7,636.8 1241.1,638.7 1242.5,642.4 1243.5,635.4 1244.9,645.2 1246.3,638.7 1247.7,642.4 1249.1,640.1 1250.5,641.5 1251.4,645.2 1252.8,640.5 1254.7,642.4 1256.1,643.4 1257.5,638.7 1259.9,618.9 1261.3,632.1 1262.7,627.0 1264.1,628.4 1265.5,627.4 1266.9,634.9 1268.3,627.4 1270.2,624.5" fill="none" stroke="#f4f436" stroke-width="2.6" stroke-linejoin="round" stroke-linecap="round"/>
<rect x="0" y="40" width="641" height="2" fill="#a2a2a2"/>
<rect x="641" y="42" width="639" height="2" fill="#a2a2a2"/>
<rect x="640" y="40" width="2" height="476" fill="#9a9a9a"/>
<rect x="641" y="515" width="2" height="464" fill="#9a9a9a"/>
<rect x="0" y="517" width="642" height="1.4" fill="#cfcfcf"/>
<rect x="641" y="514.9" width="639" height="1.4" fill="#cfcfcf"/>
</svg>
</body></html>
